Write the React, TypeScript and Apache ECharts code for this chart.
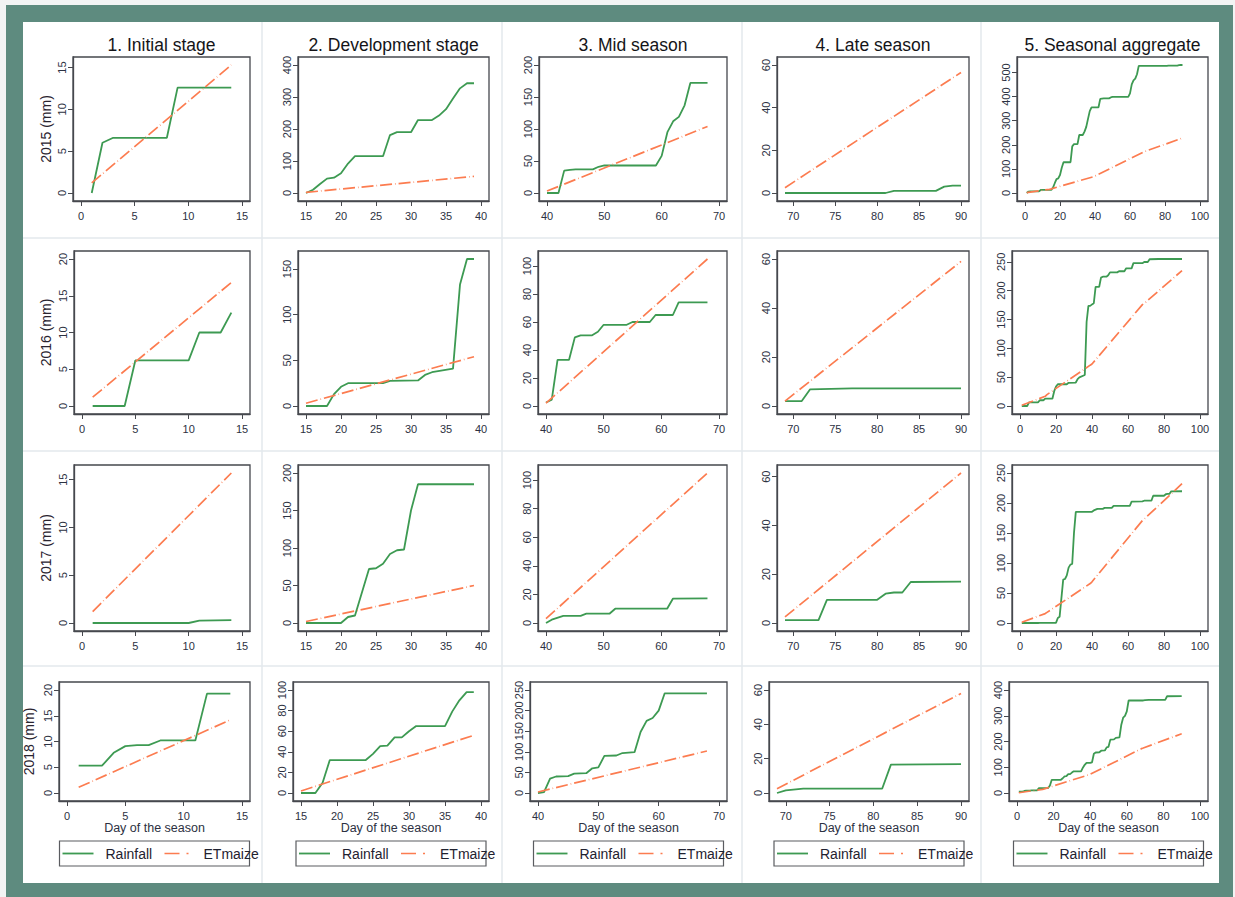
import React, { useEffect, useRef } from "react";
import * as echarts from "echarts";

type Pt = [number, number];

// ---------- categories and labels ----------
const STAGE_TITLES = ["1. Initial stage", "2. Development stage", "3. Mid season", "4. Late season", "5. Seasonal aggregate"];
const YEAR_TITLES = ["2015 (mm)", "2016 (mm)", "2017 (mm)", "2018 (mm)"];
const SERIES_NAMES = ["Rainfall", "ETmaize"];
const X_AXIS_TITLE = "Day of the season";

// ---------- tick labels ----------
const X_TICKS_INITIAL = [0, 5, 10, 15];
const X_TICKS_DEV = [15, 20, 25, 30, 35, 40];
const X_TICKS_MID = [40, 50, 60, 70];
const X_TICKS_LATE = [70, 75, 80, 85, 90];
const X_TICKS_SEASON = [0, 20, 40, 60, 80, 100];

const Y_TICKS_2015 = [[0, 5, 10, 15], [0, 100, 200, 300, 400], [0, 50, 100, 150, 200], [0, 20, 40, 60], [0, 100, 200, 300, 400, 500]];
const Y_TICKS_2016 = [[0, 5, 10, 15, 20], [0, 50, 100, 150], [0, 20, 40, 60, 80, 100], [0, 20, 40, 60], [0, 50, 100, 150, 200, 250]];
const Y_TICKS_2017 = [[0, 5, 10, 15], [0, 50, 100, 150, 200], [0, 20, 40, 60, 80, 100], [0, 20, 40, 60], [0, 50, 100, 150, 200, 250]];
const Y_TICKS_2018 = [[0, 5, 10, 15, 20], [0, 20, 40, 60, 80, 100], [0, 50, 100, 150, 200, 250], [0, 20, 40, 60], [0, 100, 200, 300, 400]];

// ---------- cumulative values within each stage: [day, mm] ----------
// 2015
const RAIN_2015_INITIAL: Pt[] = [[1, 0], [2, 6], [3, 6.6], [8, 6.6], [9, 12.6], [14, 12.6]];
const ET_2015_INITIAL: Pt[] = [[1, 1.2], [14, 15.3]];
const RAIN_2015_DEV: Pt[] = [[15, 0], [16, 10], [17, 28], [18, 45], [19, 48], [20, 62], [21, 92], [22, 115], [26, 115], [27, 181], [28, 190], [30, 190], [31, 228], [33, 228], [34, 242], [35, 262], [36, 295], [37, 327], [38, 343], [39, 343]];
const ET_2015_DEV: Pt[] = [[15, 2], [39, 52]];
const RAIN_2015_MID: Pt[] = [[40, 0], [42, 0], [43, 35], [44, 36], [45, 37], [48, 37], [49, 41], [50, 43], [59, 43], [60, 58], [61, 95], [62, 112], [63, 119], [64, 137], [65, 172], [68, 172]];
const ET_2015_MID: Pt[] = [[40, 3], [68, 104]];
const RAIN_2015_LATE: Pt[] = [[69, 0], [81, 0], [82, 1], [87, 1], [88, 3], [89, 3.5], [90, 3.5]];
const ET_2015_LATE: Pt[] = [[69, 2.5], [90, 56.5]];
// 2016
const RAIN_2016_INITIAL: Pt[] = [[1, 0], [4, 0], [5, 6.2], [10, 6.2], [11, 10], [13, 10], [14, 12.7]];
const ET_2016_INITIAL: Pt[] = [[1, 1.2], [14, 16.8]];
const RAIN_2016_DEV: Pt[] = [[15, 0], [18, 0], [19, 13], [20, 21], [21, 25], [26, 25], [27, 27.5], [31, 28], [32, 34], [33, 37], [36, 41], [37, 133], [38, 161], [39, 161]];
const ET_2016_DEV: Pt[] = [[15, 3], [39, 54]];
const RAIN_2016_MID: Pt[] = [[40, 2.5], [41, 4.5], [42, 33], [44, 33], [45, 49], [46, 50.5], [48, 50.5], [49, 53], [50, 58], [54, 58], [55, 60], [58, 60], [59, 65], [62, 65], [63, 74], [68, 74]];
const ET_2016_MID: Pt[] = [[40, 2], [68, 105]];
const RAIN_2016_LATE: Pt[] = [[69, 2], [71, 2], [72, 6.8], [77, 7.2], [90, 7.2]];
const ET_2016_LATE: Pt[] = [[69, 2], [90, 59]];
// 2017
const RAIN_2017_INITIAL: Pt[] = [[1, 0], [10, 0], [11, 0.25], [14, 0.3]];
const ET_2017_INITIAL: Pt[] = [[1, 1.2], [14, 15.7]];
const RAIN_2017_DEV: Pt[] = [[15, 0], [20, 0], [21, 8], [22, 10], [24, 72], [25, 73], [26, 79], [27, 92], [28, 97], [29, 98], [30, 150], [31, 185], [39, 185]];
const ET_2017_DEV: Pt[] = [[15, 2], [39, 50]];
const RAIN_2017_MID: Pt[] = [[40, 0], [41, 2.3], [43, 5], [46, 5], [47, 6.5], [51, 6.5], [52, 10], [61, 10], [62, 17], [68, 17.3]];
const ET_2017_MID: Pt[] = [[40, 3], [68, 105]];
const RAIN_2017_LATE: Pt[] = [[69, 1.2], [73, 1.2], [74, 9.5], [80, 9.5], [81, 12], [82, 12.5], [83, 12.5], [84, 16.8], [90, 17]];
const ET_2017_LATE: Pt[] = [[69, 2.5], [90, 61.5]];
// 2018
const RAIN_2018_INITIAL: Pt[] = [[1, 5.3], [3, 5.3], [4, 7.8], [5, 9.1], [6, 9.3], [7, 9.3], [8, 10.2], [11, 10.2], [12, 19.3], [14, 19.3]];
const ET_2018_INITIAL: Pt[] = [[1, 1.1], [14, 14.2]];
const RAIN_2018_DEV: Pt[] = [[15, 0], [17, 0], [18, 10], [19, 32], [24, 32], [25, 38], [26, 45.5], [27, 46], [28, 54], [29, 54], [30, 60], [31, 65], [35, 65], [36, 79], [37, 90], [38, 98], [39, 98]];
const ET_2018_DEV: Pt[] = [[15, 2], [39, 56]];
const RAIN_2018_MID: Pt[] = [[40, 0], [41, 2], [42, 35], [43, 40], [45, 41], [46, 47], [48, 48], [49, 60], [50, 62], [51, 90], [53, 91], [54, 97], [56, 99], [57, 148], [58, 175], [59, 182], [60, 200], [61, 242], [68, 242]];
const ET_2018_MID: Pt[] = [[40, 2.5], [68, 102]];
const RAIN_2018_LATE: Pt[] = [[69, 0], [70, 1.5], [72, 2.5], [81, 2.5], [82, 16.5], [90, 16.8]];
const ET_2018_LATE: Pt[] = [[69, 2.5], [90, 58]];

// ---------- styling ----------
const FONT = "'Liberation Sans', Arial, Helvetica, sans-serif";
const GREEN = "#3d9a52";
const ORANGE = "#fc7c50";
const FRAME = "#46484e";
const LABEL = "#2c3142";
const TEAL = "#5e8b7f";
const SEP = "#e3e9ec";

// frame (plot region) positions, pixels
const FRAME_TOP = [57, 251, 465, 682];
const FRAME_BOTTOM = [201, 414, 631, 801];
const FRAME_RIGHT = [250, 489, 727, 969, 1208];
const FRAME_LEFT = [
  [73, 298, 539, 777, 1017],
  [74, 298, 538, 777, 1012],
  [74, 298, 538, 777, 1012],
  [59, 293, 530, 769, 1009],
];
const ROW_TITLE_X = [46, 46, 46, 29];

// whole-season cumulative series from the stage series
function cumulate(parts: Pt[][]): Pt[] {
  let off = 0;
  const out: Pt[] = [];
  for (const p of parts) {
    for (const [d, v] of p) out.push([d, Math.round((v + off) * 100) / 100]);
    off += p[p.length - 1][1];
  }
  return out;
}

function padRange(lo: number, hi: number, len: number, m = 8): [number, number] {
  const s = (len - 2 * m) / (hi - lo);
  return [lo - m / s, hi + m / s];
}

function buildOption() {
  const rainStages = [
    [RAIN_2015_INITIAL, RAIN_2015_DEV, RAIN_2015_MID, RAIN_2015_LATE],
    [RAIN_2016_INITIAL, RAIN_2016_DEV, RAIN_2016_MID, RAIN_2016_LATE],
    [RAIN_2017_INITIAL, RAIN_2017_DEV, RAIN_2017_MID, RAIN_2017_LATE],
    [RAIN_2018_INITIAL, RAIN_2018_DEV, RAIN_2018_MID, RAIN_2018_LATE],
  ];
  const etStages = [
    [ET_2015_INITIAL, ET_2015_DEV, ET_2015_MID, ET_2015_LATE],
    [ET_2016_INITIAL, ET_2016_DEV, ET_2016_MID, ET_2016_LATE],
    [ET_2017_INITIAL, ET_2017_DEV, ET_2017_MID, ET_2017_LATE],
    [ET_2018_INITIAL, ET_2018_DEV, ET_2018_MID, ET_2018_LATE],
  ];
  const xTicks = [X_TICKS_INITIAL, X_TICKS_DEV, X_TICKS_MID, X_TICKS_LATE, X_TICKS_SEASON];
  const yTicks = [Y_TICKS_2015, Y_TICKS_2016, Y_TICKS_2017, Y_TICKS_2018];

  const grid: any[] = [];
  const xAxis: any[] = [];
  const yAxis: any[] = [];
  const series: any[] = [];
  const graphic: any[] = [];

  // cell separators
  [262, 502, 742, 981].forEach((x) =>
    graphic.push({ type: "line", silent: true, shape: { x1: x, y1: 22, x2: x, y2: 883 }, style: { stroke: SEP, lineWidth: 1.5 } })
  );
  [238, 451, 666].forEach((y) =>
    graphic.push({ type: "line", silent: true, shape: { x1: 23, y1: y, x2: 1219, y2: y }, style: { stroke: SEP, lineWidth: 1.5 } })
  );

  for (let r = 0; r < 4; r++) {
    for (let c = 0; c < 5; c++) {
      const idx = r * 5 + c;
      const left = FRAME_LEFT[r][c];
      const right = FRAME_RIGHT[c];
      const top = FRAME_TOP[r];
      const bottom = FRAME_BOTTOM[r];
      const W = right - left;
      const H = bottom - top;
      const rain = c < 4 ? rainStages[r][c] : cumulate(rainStages[r]);
      const et = c < 4 ? etStages[r][c] : cumulate(etStages[r]);
      const xt = xTicks[c];
      const yt = yTicks[r][c];
      const pts = rain.concat(et);
      const xlo = Math.min(xt[0], ...pts.map((p) => p[0]));
      const xhi = Math.max(xt[xt.length - 1], ...pts.map((p) => p[0]));
      const ylo = Math.min(yt[0], ...pts.map((p) => p[1]));
      const yhi = Math.max(yt[yt.length - 1], ...pts.map((p) => p[1]));
      const [xmin, xmax] = padRange(xlo, xhi, W);
      const [ymin, ymax] = padRange(ylo, yhi, H);

      grid.push({ left, top, width: W, height: H, show: true, borderColor: FRAME, borderWidth: 1.3, containLabel: false, outerBoundsMode: "none" });
      xAxis.push({
        type: "value", gridIndex: idx, min: xmin, max: xmax,
        splitLine: { show: false },
        axisLine: { show: true, onZero: false, lineStyle: { color: FRAME, width: 1.3 } },
        axisTick: { show: true, customValues: xt, length: 5, lineStyle: { color: FRAME, width: 1 } },
        axisLabel: { customValues: xt, margin: 9, fontSize: 11, color: LABEL, fontFamily: FONT },
      });
      yAxis.push({
        type: "value", gridIndex: idx, min: ymin, max: ymax,
        splitLine: { show: false },
        axisLine: { show: true, onZero: false, lineStyle: { color: FRAME, width: 1.3 } },
        axisTick: { show: true, customValues: yt, length: 5, lineStyle: { color: FRAME, width: 1 } },
        axisLabel: { customValues: yt, margin: 6, rotate: 90, fontSize: 11, color: LABEL, fontFamily: FONT },
      });
      series.push({
        type: "line", name: SERIES_NAMES[0], xAxisIndex: idx, yAxisIndex: idx, data: rain,
        showSymbol: false, symbol: "none", silent: true,
        lineStyle: { color: GREEN, width: 1.8 },
      });
      series.push({
        type: "line", name: SERIES_NAMES[1], xAxisIndex: idx, yAxisIndex: idx, data: et,
        showSymbol: false, symbol: "none", silent: true,
        lineStyle: { color: ORANGE, width: 1.7, type: [12, 3, 0.6, 3] },
      });

      // column titles
      if (r === 0) {
        graphic.push({
          type: "text", silent: true, x: (left + right) / 2, y: 45,
          style: { text: STAGE_TITLES[c], fontSize: 17.5, fontFamily: FONT, fill: "#141418", align: "center", verticalAlign: "middle" },
        });
      }
      // row titles
      if (c === 0) {
        graphic.push({
          type: "text", silent: true, x: ROW_TITLE_X[r], y: (top + bottom) / 2, rotation: Math.PI / 2,
          style: { text: YEAR_TITLES[r], fontSize: 14, fontFamily: FONT, fill: "#2a2430", align: "center", verticalAlign: "middle" },
        });
      }
      // x titles and legends on the last row
      if (r === 3) {
        const cx = (left + right) / 2;
        graphic.push({
          type: "text", silent: true, x: cx, y: 828,
          style: { text: X_AXIS_TITLE, fontSize: 12.5, fontFamily: FONT, fill: LABEL, align: "center", verticalAlign: "middle" },
        });
        const bx = cx - 95;
        const by = 841;
        const my = by + 12.5;
        graphic.push({ type: "rect", silent: true, shape: { x: bx, y: by, width: 190, height: 25 }, style: { fill: "#fff", stroke: "#5a5c60", lineWidth: 1.2 } });
        graphic.push({ type: "line", silent: true, shape: { x1: bx + 3, y1: my, x2: bx + 34, y2: my }, style: { stroke: GREEN, lineWidth: 1.8 } });
        graphic.push({
          type: "text", silent: true, x: bx + 46, y: my,
          style: { text: SERIES_NAMES[0], fontSize: 14, fontFamily: FONT, fill: "#1f2230", align: "left", verticalAlign: "middle" },
        });
        graphic.push({ type: "line", silent: true, shape: { x1: bx + 105, y1: my, x2: bx + 131, y2: my }, style: { stroke: ORANGE, lineWidth: 1.7, lineDash: [15, 7, 2, 30] } });
        graphic.push({
          type: "text", silent: true, x: bx + 144, y: my,
          style: { text: SERIES_NAMES[1], fontSize: 14, fontFamily: FONT, fill: "#1f2230", align: "left", verticalAlign: "middle" },
        });
      }
    }
  }

  return {
    animation: false,
    backgroundColor: "transparent",
    grid, xAxis, yAxis, series, graphic,
  };
}

export default function App() {
  const ref = useRef<HTMLDivElement>(null);
  useEffect(() => {
    if (!ref.current) return;
    const chart = echarts.init(ref.current, undefined, { renderer: "svg" });
    chart.setOption(buildOption() as any);
    return () => chart.dispose();
  }, []);
  return (
    <div style={{ position: "fixed", left: 0, top: 0, width: 1235, height: 897, background: "#f3f4f4", overflow: "hidden" }}>
      <div style={{ position: "absolute", left: 6, top: 5, width: 1227, height: 892, background: TEAL }} />
      <div style={{ position: "absolute", left: 23, top: 22, width: 1196, height: 861, background: "#ffffff" }} />
      <div ref={ref} style={{ position: "absolute", left: 0, top: 0, width: 1235, height: 897 }} />
    </div>
  );
}
